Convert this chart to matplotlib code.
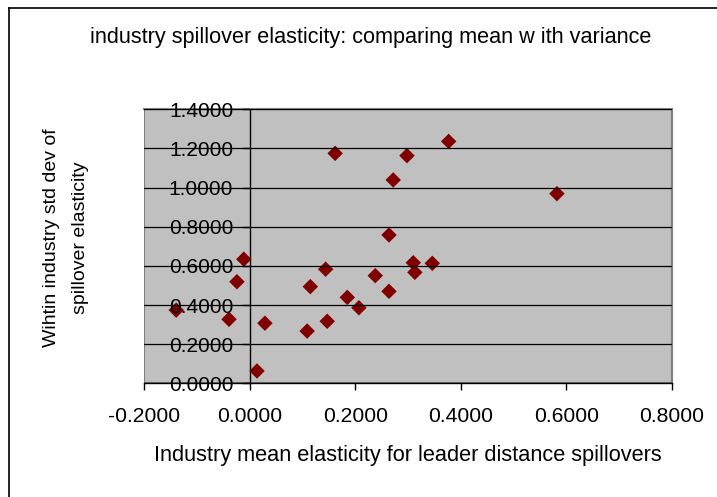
import matplotlib
matplotlib.use("Agg")
import matplotlib.pyplot as plt
from matplotlib.patches import Rectangle
from matplotlib.lines import Line2D
from matplotlib import font_manager

# Data
mean_elasticity = [-0.139, -0.039, -0.024, -0.011, 0.029, 0.014, 0.109, 0.115,
                   0.144, 0.147, 0.162, 0.185, 0.207, 0.238, 0.264, 0.264,
                   0.272, 0.298, 0.310, 0.313, 0.346, 0.377, 0.582]
std_elasticity = [0.374, 0.327, 0.519, 0.634, 0.307, 0.063, 0.267, 0.494,
                  0.583, 0.317, 1.175, 0.439, 0.386, 0.550, 0.758, 0.470,
                  1.039, 1.163, 0.616, 0.567, 0.613, 1.236, 0.969]
x_ticks = [-0.2, 0.0, 0.2, 0.4, 0.6, 0.8]
y_ticks = [0.0, 0.2, 0.4, 0.6, 0.8, 1.0, 1.2, 1.4]

title = "industry spillover elasticity: comparing mean w ith variance"
xlabel = "Industry mean elasticity for leader distance spillovers"
ylabel = "Wihtin industry std dev of\nspillover elasticity"

names = {f.name for f in font_manager.fontManager.ttflist}
narrow = "Liberation Sans Narrow" if "Liberation Sans Narrow" in names else "Liberation Sans"
plt.rcParams['font.family'] = ['Liberation Sans', 'DejaVu Sans']

W, H = 717, 497
fig = plt.figure(figsize=(W / 100, H / 100), dpi=100)
fig.patch.set_facecolor('white')

def fx(px):
    return px / W

def fy(py):
    return 1 - py / H

ax = fig.add_axes([fx(144), fy(383.3), fx(672) - fx(144), fy(109.3) - fy(383.3)])
ax.set_facecolor('#C0C0C0')
ax.set_xlim(-0.2, 0.8)
ax.set_ylim(0, 1.4)

ax.set_axisbelow(True)
ax.yaxis.grid(True, color='black', linewidth=0.9)
ax.xaxis.grid(False)

ax.scatter(mean_elasticity, std_elasticity, marker='D', s=62, color='#800000',
           edgecolors='none', zorder=3, clip_on=False)

# axes styling
for s in ['top', 'right']:
    ax.spines[s].set_color('#808080')
    ax.spines[s].set_linewidth(1.5)
ax.spines['bottom'].set_color('black')
ax.spines['bottom'].set_linewidth(1.0)
ax.spines['left'].set_position(('data', 0.0))
ax.spines['left'].set_color('black')
ax.spines['left'].set_linewidth(1.0)
ax.add_patch(Rectangle((0, 0), 1, 1, transform=ax.transAxes, fill=False,
                       edgecolor='#808080', linewidth=1.5, zorder=0.5))

ax.set_xticks(x_ticks)
ax.set_yticks(y_ticks)
ax.set_xticklabels([f"{v:.4f}" for v in x_ticks])
ax.set_yticklabels([f"{v:.4f}" for v in y_ticks])
ax.tick_params(axis='x', direction='out', length=5, width=1, color='black',
               labelsize=15.2, pad=12)
ax.tick_params(axis='y', direction='out', length=5.8, width=1, color='black',
               labelsize=15.0, pad=6)
for lab in ax.get_yticklabels():
    lab.set_zorder(4)
ax.yaxis.set_zorder(4)

fig.text(fx(371), fy(38), title, ha='center', va='center', fontsize=15.6,
         family=[narrow, 'DejaVu Sans'])
fig.text(fx(408), fy(456), xlabel, ha='center', va='center', fontsize=15.7,
         family=[narrow, 'DejaVu Sans'])
fig.text(fx(66), fy(238), ylabel, ha='center', va='center', rotation=90,
         fontsize=14.0, linespacing=1.9, family=[narrow, 'DejaVu Sans'])

# outer chart frame (extends beyond the picture to the right and bottom)
fig.add_artist(Line2D([fx(9), 1.1], [fy(8), fy(8)], color='black', linewidth=1.2))
fig.add_artist(Line2D([fx(9), fx(9)], [fy(8), -0.1], color='black', linewidth=1.2))

fig.savefig('out.png', dpi=100, facecolor='white')
